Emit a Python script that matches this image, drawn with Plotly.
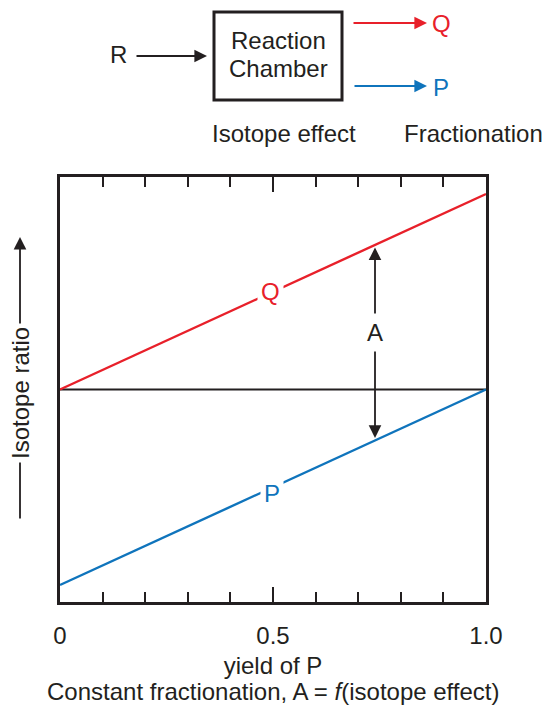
import plotly.graph_objects as go

# ---- data ----
yield_p = [0.0, 1.0]
q_ratio = [0.5, 0.96]
p_ratio = [0.04, 0.5]
r_ratio = [0.5, 0.5]
tick_vals = [0.0, 0.5, 1.0]
tick_text = ["0", "0.5", "1.0"]

RED = "#e8202a"
BLUE = "#0f74bc"
INK = "#231f20"
FONT = "Liberation Sans, Arial, sans-serif"
FS = 24

W, H = 546, 711
L, T = 60, 177
PLOT_W, PLOT_H = 426, 425
R, B = W - L - PLOT_W, H - T - PLOT_H
PW, PH = PLOT_W, PLOT_H


def X(px):
    return (px - L) / PW


def Y(py):
    return (H - B - py) / PH


fig = go.Figure()
fig.add_trace(go.Scatter(x=yield_p, y=r_ratio, mode="lines",
                         line=dict(color=INK, width=2), hoverinfo="skip"))
fig.add_trace(go.Scatter(x=yield_p, y=q_ratio, mode="lines",
                         line=dict(color=RED, width=2.4), hoverinfo="skip"))
fig.add_trace(go.Scatter(x=yield_p, y=p_ratio, mode="lines",
                         line=dict(color=BLUE, width=2.4), hoverinfo="skip"))


def arrow(tx, ty, hx, hy, color=INK):
    return dict(x=X(hx), y=Y(hy), xref="paper", yref="paper",
                ax=tx - hx, ay=ty - hy, axref="pixel", ayref="pixel",
                text="", showarrow=True, arrowhead=2, arrowsize=1.4,
                arrowwidth=1.8, arrowcolor=color)


def label(px, py, text, color=INK, bg=None, size=FS, pad=1):
    d = dict(x=X(px), y=Y(py), xref="paper", yref="paper", text=text,
             showarrow=False, xanchor="center", yanchor="middle",
             font=dict(family=FONT, size=size, color=color), borderpad=pad)
    if bg:
        d["bgcolor"] = bg
    return d


xa = 375
q_at = q_ratio[0] + (q_ratio[1] - q_ratio[0]) * X(xa)
p_at = p_ratio[0] + (p_ratio[1] - p_ratio[0]) * X(xa)

annotations = [
    # top diagram
    arrow(135, 56, 207, 56),
    arrow(352, 23, 427, 23, RED),
    arrow(353, 86, 427, 86, BLUE),
    label(118, 55, "R"),
    label(278, 41, "Reaction"),
    label(278, 69, "Chamber"),
    label(441, 23, "Q", RED),
    label(441, 87, "P", BLUE),
    label(284, 133, "Isotope effect"),
    label(473, 133, "Fractionation"),
    # A double arrow
    dict(x=X(xa), y=q_at - 0.006, xref="paper", yref="paper", ax=0, ay=85,
         text="", showarrow=True, arrowhead=2, arrowsize=1.4, arrowwidth=1.8,
         arrowcolor=INK),
    dict(x=X(xa), y=p_at + 0.006, xref="paper", yref="paper", ax=0, ay=-100,
         text="", showarrow=True, arrowhead=2, arrowsize=1.4, arrowwidth=1.8,
         arrowcolor=INK),
    label(xa, 332, "A", bg="white", pad=5),
    label(270, 291, "Q", RED, bg="white", pad=3),
    label(272, 493, "P", BLUE, bg="white", pad=3),
    # y axis label with arrow
    arrow(20, 520, 20, 237),
    dict(x=X(20), y=Y(393), xref="paper", yref="paper", text="Isotope ratio",
         textangle=-90, showarrow=False, xanchor="center", yanchor="middle",
         bgcolor="white", borderpad=3,
         font=dict(family=FONT, size=FS, color=INK)),
    # caption
    label(273, 691, "Constant fractionation, A = <i>f</i>(isotope effect)"),
]

shapes = [
    dict(type="rect", xref="paper", yref="paper", x0=X(214), x1=X(342),
         y0=Y(100), y1=Y(12), line=dict(color=INK, width=3)),
]

fig.update_layout(
    width=W, height=H, margin=dict(l=L, r=R, t=T, b=B, pad=0),
    paper_bgcolor="white", plot_bgcolor="white", showlegend=False,
    font=dict(family=FONT, size=FS, color=INK),
    annotations=annotations, shapes=shapes,
    xaxis=dict(range=[0, 1], showgrid=False, zeroline=False,
               showline=True, linewidth=3, linecolor=INK, mirror="ticks",
               ticks="inside", ticklen=15, tickwidth=2, tickcolor=INK,
               tickvals=tick_vals, ticktext=tick_text, ticklabelstandoff=10,
               tickfont=dict(family=FONT, size=FS, color=INK),
               minor=dict(dtick=0.1, ticks="inside", ticklen=10, tickwidth=2,
                          tickcolor=INK, showgrid=False),
               title=dict(text="yield of P", standoff=10,
                          font=dict(family=FONT, size=FS, color=INK))),
    yaxis=dict(range=[0, 1], showgrid=False, zeroline=False,
               showline=True, linewidth=3, linecolor=INK, mirror=True,
               ticks="", showticklabels=False),
)

fig.write_html(
    "out.html",
    config={"displayModeBar": False, "staticPlot": True},
    post_script="document.body.style.margin='0';document.body.style.overflow='hidden';",
)
